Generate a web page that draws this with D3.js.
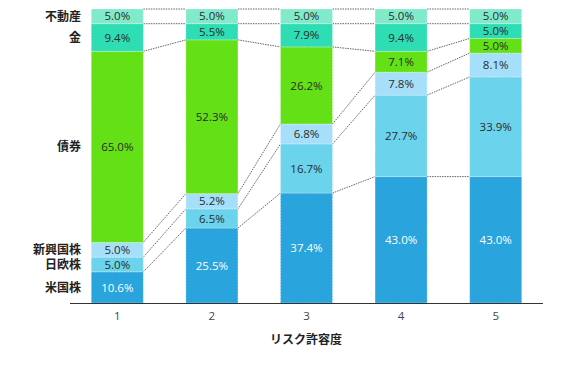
<!DOCTYPE html>
<html>
<head>
<meta charset="utf-8">
<script src="https://cdn.jsdelivr.net/npm/d3@7"></script>
<style>
  body { margin: 0; background: #fff; }
  text { font-family: "Noto Sans CJK JP", "Noto Sans", sans-serif; }
</style>
</head>
<body>
<script>
// risk levels on the x axis
var levels = ['1', '2', '3', '4', '5'];
// asset classes, bottom to top
var assets = ['米国株', '日欧株', '新興国株', '債券', '金', '不動産'];
var colors = ['#29a4dc', '#6bd3eb', '#a6dffa', '#64e016', '#2eddb3', '#80eacb'];
// percentages per level, same order as assets
var usStock   = [10.6, 25.5, 37.4, 43.0, 43.0];
var jpEuStock = [5.0, 6.5, 16.7, 27.7, 33.9];
var emStock   = [5.0, 5.2, 6.8, 7.8, 8.1];
var bonds     = [65.0, 52.3, 26.2, 7.1, 5.0];
var gold      = [9.4, 5.5, 7.9, 9.4, 5.0];
var reit      = [5.0, 5.0, 5.0, 5.0, 5.0];
var series = [usStock, jpEuStock, emStock, bonds, gold, reit];

var width = 580, height = 365;
var plotLeft = 70, plotRight = 543, plotTop = 9, plotBottom = 303;

var svg = d3.select('body').append('svg')
  .attr('width', width)
  .attr('height', height);

var x = d3.scaleBand().domain(levels).range([plotLeft, plotRight]).paddingInner(0.45).paddingOuter(0.225);
var y = d3.scaleLinear().domain([0, 100]).range([plotBottom, plotTop]);

// build stacked table
var table = levels.map(function(l, i) {
  var row = { level: l };
  assets.forEach(function(a, j) { row[a] = series[j][i]; });
  return row;
});
var stack = d3.stack().keys(assets)(table);

// connector lines between neighbouring bars
var conn = svg.append('g');
for (var i = 0; i < levels.length - 1; i++) {
  stack.forEach(function(layer) {
    conn.append('line')
      .attr('x1', x(levels[i]) + x.bandwidth())
      .attr('x2', x(levels[i + 1]))
      .attr('y1', y(layer[i][1]))
      .attr('y2', y(layer[i + 1][1]))
      .attr('stroke', '#666')
      .attr('stroke-width', 1)
      .attr('stroke-dasharray', '1.5,1');
  });
}

var layers = svg.selectAll('g.layer')
  .data(stack)
  .enter().append('g')
    .attr('class', 'layer')
    .attr('fill', function(d, i) { return colors[i]; });

layers.selectAll('rect')
  .data(function(d) { return d; })
  .enter().append('rect')
    .attr('x', function(d) { return x(d.data.level); })
    .attr('y', function(d) { return y(d[1]); })
    .attr('width', x.bandwidth())
    .attr('height', function(d) { return y(d[0]) - y(d[1]); })
    .attr('stroke', 'rgba(255,255,255,0.45)')
    .attr('stroke-width', 0.8)
    .attr('stroke-dasharray', '2,1');

layers.each(function(layer, li) {
  d3.select(this).selectAll('text')
    .data(layer)
    .enter().append('text')
      .attr('x', function(d) { return x(d.data.level) + x.bandwidth() / 2; })
      .attr('y', function(d) { return (y(d[0]) + y(d[1])) / 2; })
      .attr('dy', '0.36em')
      .attr('text-anchor', 'middle')
      .attr('font-size', 11.5)
      .style('font-family', '"Open Sans", "Noto Sans", sans-serif')
      .attr('fill', li === 0 ? '#fff' : '#2b2b2b')
      .text(function(d) { return (d[1] - d[0]).toFixed(1) + '%'; });
});

// asset names next to the first bar
svg.append('g').selectAll('text')
  .data(stack)
  .enter().append('text')
    .attr('x', 81)
    .attr('y', function(d) { return (y(d[0][0]) + y(d[0][1])) / 2; })
    .attr('dy', '0.36em')
    .attr('text-anchor', 'end')
    .attr('font-size', 12)
    .attr('font-weight', 'bold')
    .attr('fill', '#222')
    .text(function(d) { return d.key; });

var xAxis = svg.append('g')
  .attr('transform', 'translate(0,' + plotBottom + ')')
  .call(d3.axisBottom(x).tickSize(0).tickPadding(9));
xAxis.select('.domain').attr('stroke', '#333').attr('d', 'M' + plotLeft + ',0.5H' + plotRight);
xAxis.selectAll('text').attr('font-size', 11.5).attr('fill', '#444')
  .style('font-family', '"Open Sans", "Noto Sans", sans-serif');

svg.append('text')
  .attr('x', 306)
  .attr('y', 340)
  .attr('dy', '0.36em')
  .attr('text-anchor', 'middle')
  .attr('font-size', 12)
  .attr('font-weight', 'bold')
  .attr('fill', '#222')
  .text('リスク許容度');
</script>
</body>
</html>
